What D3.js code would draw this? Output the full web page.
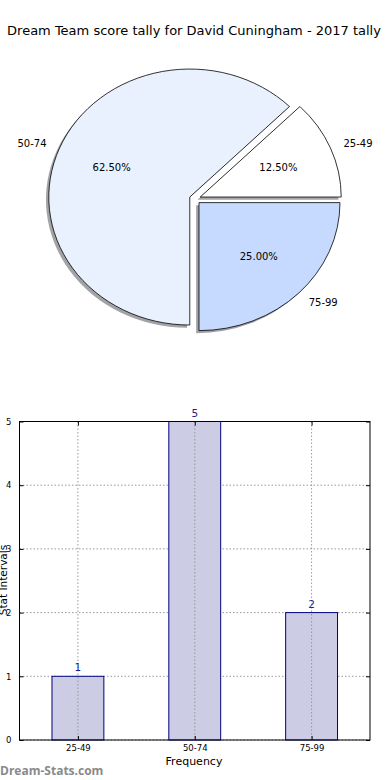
<!DOCTYPE html>
<html>
<head>
<meta charset="utf-8">
<script src="https://cdn.jsdelivr.net/npm/d3@7"></script>
<style>
  body { margin: 0; background: #fff; }
  svg { display: block; font-family: "DejaVu Sans", sans-serif; }
</style>
</head>
<body>
<script>
const W = 390, H = 780

// data
const titleText = 'Dream Team score tally for David Cuningham - 2017 tally'
const categories = ['25-49', '50-74', '75-99']
const counts = [1, 5, 2]
const pieColors = ['#ffffff', '#eaf1fe', '#c6d9fe']
const yTicks = [0, 1, 2, 3, 4, 5]

const svg = d3.select('body').append('svg')
    .attr('width', W)
    .attr('height', H)

svg.append('text')
    .attr('x', 194)
    .attr('y', 35)
    .attr('text-anchor', 'middle')
    .style('font-size', '13px')
    .text(titleText)

// ---- pie (elliptical, every wedge pulled out a little, with shadow)
const cx = 195, cy = 199, rx = 141, ry = 128, explode = 0.04
const total = d3.sum(counts)

const pie = d3.pie().sort(null).value(d => d)
    .startAngle(Math.PI / 2)
    .endAngle(Math.PI / 2 - 2 * Math.PI)
const arcs = pie(counts)
const arc = d3.arc().innerRadius(0).outerRadius(rx)

// point at angle a (d3 convention) and relative radius k on the ellipse
const pt = (a, k) => [rx * k * Math.sin(a), -ry * k * Math.cos(a)]

const pieG = svg.append('g').attr('transform', `translate(${cx},${cy})`)

arcs.forEach((d, i) => {
  const mid = (d.startAngle + d.endAngle) / 2
  d.mid = mid
  d.off = pt(mid, explode)
})

// shadows underneath everything
pieG.selectAll('.shadow').data(arcs).enter()
  .append('path')
    .attr('class', 'shadow')
    .attr('transform', d => `translate(${d.off[0] - 2.8},${d.off[1] + 2.6}) scale(1,${ry / rx})`)
    .attr('d', arc)
    .attr('fill', (d, i) => {
      const c = d3.rgb(pieColors[i])
      return d3.rgb(c.r * 0.3, c.g * 0.3, c.b * 0.3)
    })
    .attr('fill-opacity', 0.5)

pieG.selectAll('.wedge').data(arcs).enter()
  .append('path')
    .attr('class', 'wedge')
    .attr('transform', d => `translate(${d.off[0]},${d.off[1]}) scale(1,${ry / rx})`)
    .attr('d', arc)
    .attr('fill', (d, i) => pieColors[i])
    .attr('stroke', '#000')
    .attr('stroke-width', 0.8)
    .attr('vector-effect', 'non-scaling-stroke')

// category labels outside
pieG.selectAll('.lab').data(arcs).enter()
  .append('text')
    .attr('class', 'lab')
    .attr('x', d => d.off[0] + pt(d.mid, 1.1)[0])
    .attr('y', d => d.off[1] + pt(d.mid, 1.1)[1])
    .attr('dy', '0.35em')
    .attr('text-anchor', d => Math.sin(d.mid) > 0 ? 'start' : 'end')
    .style('font-size', '10px')
    .text((d, i) => categories[i])

// percentages inside
pieG.selectAll('.pct').data(arcs).enter()
  .append('text')
    .attr('class', 'pct')
    .attr('x', d => d.off[0] + pt(d.mid, 0.6)[0])
    .attr('y', d => d.off[1] + pt(d.mid, 0.6)[1])
    .attr('dy', '0.35em')
    .attr('text-anchor', 'middle')
    .style('font-size', '10px')
    .text(d => (d.value / total * 100).toFixed(2) + '%')

// ---- bar chart
const box = {left: 19.5, right: 370, top: 421.5, bottom: 740}

const xScale = d3.scaleBand()
    .domain(categories)
    .range([box.left, box.right])
    .paddingInner(0.556)
    .paddingOuter(0.278)

const yScale = d3.scaleLinear()
    .domain([0, 5])
    .range([box.bottom, box.top])

const barG = svg.append('g')

// dotted grid
barG.selectAll('.hgrid').data(yTicks).enter()
  .append('line')
    .attr('x1', box.left).attr('x2', box.right)
    .attr('y1', d => yScale(d)).attr('y2', d => yScale(d))
    .attr('stroke', '#999')
    .attr('stroke-dasharray', '1.5,2')

barG.selectAll('.bar').data(categories).enter()
  .append('rect')
    .attr('x', d => xScale(d))
    .attr('width', xScale.bandwidth())
    .attr('y', (d, i) => yScale(counts[i]))
    .attr('height', (d, i) => box.bottom - yScale(counts[i]))
    .attr('fill', '#ccccE4')
    .attr('stroke', '#000080')
    .attr('stroke-width', 1)

barG.selectAll('.vgrid').data(categories).enter()
  .append('line')
    .attr('x1', d => xScale(d) + xScale.bandwidth() / 2)
    .attr('x2', d => xScale(d) + xScale.bandwidth() / 2)
    .attr('y1', box.top).attr('y2', box.bottom)
    .attr('stroke', '#999')
    .attr('stroke-dasharray', '1.5,2')

// value labels above bars
barG.selectAll('.val').data(categories).enter()
  .append('text')
    .attr('x', d => xScale(d) + xScale.bandwidth() / 2)
    .attr('y', (d, i) => yScale(counts[i]) - 5)
    .attr('text-anchor', 'middle')
    .attr('fill', '#1f1f8a')
    .style('font-size', '10.5px')
    .text((d, i) => counts[i])

// axes (ticks point inward, on all four sides)
const xPoint = d3.scalePoint().domain(categories)
    .range([xScale(categories[0]) + xScale.bandwidth() / 2,
            xScale(categories[2]) + xScale.bandwidth() / 2])

const axisLeftG = barG.append('g')
    .attr('transform', `translate(${box.left},0)`)
    .call(d3.axisLeft(yScale).tickValues(yTicks).tickSize(-4).tickPadding(8).tickFormat(d3.format('d')))
const axisRightG = barG.append('g')
    .attr('transform', `translate(${box.right},0)`)
    .call(d3.axisRight(yScale).tickValues(yTicks).tickSize(-4).tickFormat(''))
const axisBottomG = barG.append('g')
    .attr('transform', `translate(0,${box.bottom})`)
    .call(d3.axisBottom(xPoint).tickSize(-4).tickPadding(5))
const axisTopG = barG.append('g')
    .attr('transform', `translate(0,${box.top})`)
    .call(d3.axisTop(xPoint).tickSize(-4).tickFormat(''))

;[axisLeftG, axisRightG, axisBottomG, axisTopG].forEach(a => {
  a.select('.domain').remove()
  a.selectAll('text').style('font-size', '8.5px').attr('font-family', 'DejaVu Sans')
})

barG.append('rect')
    .attr('x', box.left).attr('y', box.top)
    .attr('width', box.right - box.left)
    .attr('height', box.bottom - box.top)
    .attr('fill', 'none')
    .attr('stroke', '#000')
    .attr('stroke-width', 1)

svg.append('text')
    .attr('x', 194)
    .attr('y', 765)
    .attr('text-anchor', 'middle')
    .style('font-size', '11px')
    .text('Frequency')

svg.append('text')
    .attr('transform', 'translate(6.5,580)rotate(-90)')
    .attr('text-anchor', 'middle')
    .style('font-size', '10.5px')
    .text('Stat Intervals')

svg.append('text')
    .attr('x', 0)
    .attr('y', 775)
    .attr('fill', '#8a8a8a')
    .style('font-family', '"Open Sans", sans-serif')
    .style('font-weight', 'bold')
    .style('font-size', '12px')
    .text('Dream-Stats.com')
</script>
</body>
</html>
